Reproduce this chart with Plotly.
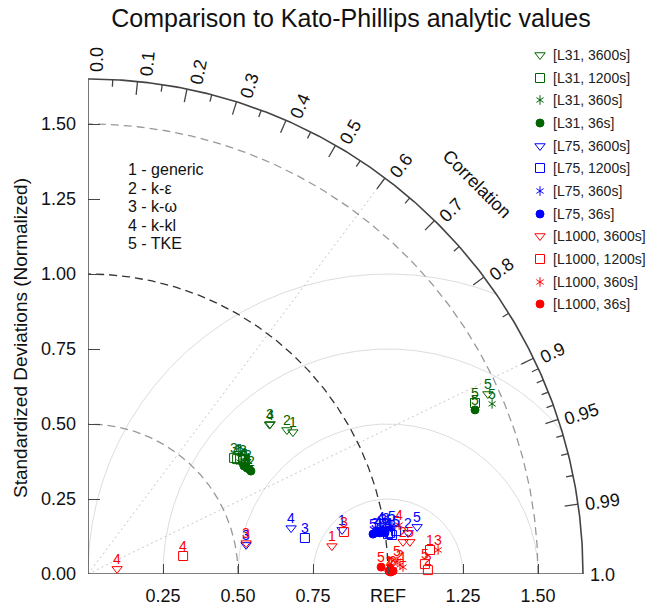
import numpy as np
import plotly.graph_objects as go

# ---------------- data ----------------
models = ["1", "2", "3", "4", "5"]
model_names = ["1 - generic", "2 - k-\u03b5", "3 - k-\u03c9", "4 - k-kl", "5 - TKE"]
times = ["3600s", "1200s", "360s", "36s"]
grids = ["L31", "L75", "L1000"]
grid_colors = ["#006400", "#0000ff", "#ff0000"]
time_symbols = ["triangle-down-open", "square-open", "asterisk6", "circle"]

# normalized diagram coordinates (x = sd*corr, y = sd*sqrt(1-corr^2)); rows = times, cols = models 1..5
L31_x = [[0.683, 0.663, 0.607, 0.605, 1.333],
         [0.507, 0.517, 0.487, 0.497, 1.290],
         [0.527, 0.533, 0.507, 0.517, 1.347],
         [0.537, 0.543, 0.520, 0.530, 1.290]]
L31_y = [[0.473, 0.480, 0.500, 0.498, 0.600],
         [0.383, 0.380, 0.387, 0.383, 0.570],
         [0.367, 0.363, 0.373, 0.370, 0.567],
         [0.350, 0.343, 0.360, 0.353, 0.547]]
L75_x = [[0.847, 1.067, 0.527, 0.677, 1.097],
         [1.007, 1.013, 0.723, 1.000, 1.027],
         [1.000, 0.993, 0.983, 0.977, 1.013],
         [0.973, 0.990, 0.957, 0.967, 0.950]]
L75_y = [[0.147, 0.137, 0.097, 0.153, 0.157],
         [0.137, 0.130, 0.120, 0.133, 0.143],
         [0.147, 0.153, 0.150, 0.157, 0.160],
         [0.137, 0.137, 0.137, 0.143, 0.133]]
L1000_x = [[0.813, 1.050, 0.527, 0.097, 1.073],
           [1.140, 1.133, 0.853, 0.317, 1.123],
           [1.050, 1.040, 1.167, 1.037, 1.030],
           [1.003, 1.010, 1.017, 1.007, 0.977]]
L1000_y = [[0.093, 0.107, 0.103, 0.017, 0.107],
           [0.080, 0.013, 0.140, 0.060, 0.033],
           [0.023, 0.030, 0.080, 0.163, 0.043],
           [0.010, 0.007, 0.010, 0.007, 0.023]]

sd_ticks = [0.0, 0.25, 0.5, 0.75, 1.0, 1.25, 1.5]
sd_ticktext_y = ["0.00", "0.25", "0.50", "0.75", "1.00", "1.25", "1.50"]
sd_ticktext_x = ["", "0.25", "0.50", "0.75", "REF", "1.25", "1.50"]
corr_major = [0.1, 0.2, 0.3, 0.4, 0.5, 0.6, 0.7, 0.8, 0.9, 0.95, 0.99]
corr_minor = [0.05, 0.15, 0.25, 0.35, 0.45, 0.55, 0.65, 0.75, 0.85,
              0.91, 0.92, 0.93, 0.94, 0.96, 0.97, 0.98]
corr_labels = [0.0, 0.1, 0.2, 0.3, 0.4, 0.5, 0.6, 0.7, 0.8, 0.9, 0.95, 0.99, 1.0]
corr_texts = ["0.0", "0.1", "0.2", "0.3", "0.4", "0.5", "0.6", "0.7", "0.8", "0.9", "0.95", "0.99", "1.0"]
sd_arcs = [0.5, 1.0, 1.5]
rms_arcs = [0.25, 0.5, 0.75, 1.0]
corr_rays = [0.6, 0.9]
SDMAX = 1.65

# ---------------- figure ----------------
W, H = 648, 605
ML, MB = 88, 31
PX = 300.0                        # px per unit of standardized deviation
XMAX = (W - ML) / PX
YMAX = (H - MB) / PX
FONT = "Liberation Sans, Arial, sans-serif"

fig = go.Figure()


def line_trace(x, y, color, width=1.0, dash="solid"):
    fig.add_trace(go.Scatter(x=x, y=y, mode="lines", line=dict(color=color, width=width, dash=dash),
                             hoverinfo="skip", showlegend=False, cliponaxis=False))


def marker_trace(x, y, sym, col, hover=True):
    # a 6-armed asterisk is built from the two "Y" symbols
    syms = ["y-up-open", "y-down-open"] if sym == "asterisk6" else [sym]
    for s in syms:
        filled = s == "circle"
        size = 8 if filled else (6 if s.startswith("y-") else 9)
        fig.add_trace(go.Scatter(
            x=x, y=y, mode="markers",
            marker=dict(symbol=s, size=size, color=col, line=dict(color=col, width=1)),
            cliponaxis=False, showlegend=False, hoverinfo=None if hover else "skip"))


# RMS arcs around REF
for R in rms_arcs:
    phi = np.linspace(0, np.pi, 800)
    xs = 1 + R * np.cos(phi)
    ys = R * np.sin(phi)
    ok = (xs ** 2 + ys ** 2 <= SDMAX ** 2) & (xs >= 0)
    line_trace(xs[ok], ys[ok], "#dddddd", 1.0)

# correlation rays
for c in corr_rays:
    a = np.arccos(c)
    line_trace([0, SDMAX * np.cos(a)], [0, SDMAX * np.sin(a)], "#c8c8c8", 1.0, "2px,3px")

# std dev arcs
th = np.linspace(0, np.pi / 2, 300)
for r in sd_arcs:
    col = "#333333" if r == 1.0 else "#999999"
    line_trace(r * np.cos(th), r * np.sin(th), col, 1.3, "8px,5px")

# outer arc and the two straight axes
line_trace(SDMAX * np.cos(th), SDMAX * np.sin(th), "#444444", 1.6)
line_trace([0, SDMAX], [0, 0], "#555555", 1.6)
line_trace([0, 0], [0, SDMAX], "#555555", 1.6)

# correlation ticks
tx, ty = [], []
for clist, L in ((corr_major, 0.045), (corr_minor, 0.024)):
    for c in clist:
        a = np.arccos(c)
        tx += [SDMAX * np.cos(a), (SDMAX - L) * np.cos(a), None]
        ty += [SDMAX * np.sin(a), (SDMAX - L) * np.sin(a), None]
line_trace(tx, ty, "#444444", 1.3)

# data points
annotations = []
all_x = [L31_x, L75_x, L1000_x]
all_y = [L31_y, L75_y, L1000_y]
for gi, g in enumerate(grids):
    col = grid_colors[gi]
    for ti, t in enumerate(times):
        marker_trace(all_x[gi][ti], all_y[gi][ti], time_symbols[ti], col)
        for mi in reversed(range(len(models))):
            annotations.append(dict(x=all_x[gi][ti][mi], y=all_y[gi][ti][mi], xref="x", yref="y",
                                    text=models[mi], showarrow=False, yshift=10,
                                    font=dict(size=14, color=col, family=FONT)))

# custom legend (top right)
leg_rows_px = [55, 78, 100, 123, 146, 168, 191, 214, 236, 259, 282, 304]
k = 0
for gi, g in enumerate(grids):
    col = grid_colors[gi]
    for ti, t in enumerate(times):
        ly = (H - MB - leg_rows_px[k]) / PX
        marker_trace([(540 - ML) / PX], [ly], time_symbols[ti], col, hover=False)
        annotations.append(dict(x=(551 - ML) / PX, y=ly, xref="x", yref="y", text=f"[{g}, {t}]",
                                showarrow=False, xanchor="left", yanchor="middle",
                                font=dict(size=14, color="#222222", family=FONT)))
        k += 1

# model key
for i, name in enumerate(model_names):
    py = 169.5 + 18.5 * i
    annotations.append(dict(x=(126 - ML) / PX, y=(H - MB - py) / PX, xref="x", yref="y", text=name,
                            showarrow=False, xanchor="left", yanchor="middle",
                            font=dict(size=16, color="#111111", family=FONT)))

# correlation labels (paper coordinates so none is hidden at the axis edges)
FS = 18
for c, t in zip(corr_labels, corr_texts):
    a = np.arccos(c)
    w = FS * (0.556 * (len(t) - 1) + 0.278)
    rc = 1.672 + w / 2 / PX
    off = (1 + 8 * a / (np.pi / 2)) / PX
    x = rc * np.cos(a) + off * np.sin(a)
    y = rc * np.sin(a) - off * np.cos(a)
    annotations.append(dict(x=x / XMAX, y=y / YMAX, xref="paper", yref="paper", text=t, showarrow=False,
                            textangle=-np.degrees(a), xanchor="center", yanchor="middle",
                            font=dict(size=FS, color="#111111", family=FONT)))

# "Correlation" label
ca = np.radians(45.1)
annotations.append(dict(x=1.836 * np.cos(ca), y=1.836 * np.sin(ca), xref="x", yref="y",
                        text="Correlation", showarrow=False, textangle=90 - 45.1,
                        font=dict(size=18, color="#111111", family=FONT)))

# y-axis title
annotations.append(dict(x=(20 - ML) / (W - ML), y=(H - MB - 338) / (H - MB), xref="paper", yref="paper",
                        text="Standardized Deviations (Normalized)", showarrow=False, textangle=-90,
                        xanchor="center", yanchor="middle",
                        font=dict(size=19, color="#111111", family=FONT)))

axis_common = dict(showgrid=False, zeroline=False, showline=False, automargin=False,
                   ticks="inside", tickcolor="#444444", tickwidth=1.3, tickvals=sd_ticks,
                   fixedrange=True, tickfont=dict(size=18, color="#111111", family=FONT))

fig.update_layout(
    width=W, height=H,
    margin=dict(l=ML, r=0, t=0, b=MB, pad=0),
    paper_bgcolor="white", plot_bgcolor="white",
    title=dict(text="Comparison to Kato-Phillips analytic values", x=351 / W, xref="container",
               y=1 - 18 / H, yref="container", xanchor="center", yanchor="middle",
               font=dict(size=25, color="#111111", family=FONT)),
    xaxis=dict(axis_common, range=[0, XMAX], ticktext=sd_ticktext_x, ticklen=10, ticklabelstandoff=9),
    yaxis=dict(axis_common, range=[0, YMAX], ticktext=sd_ticktext_y, ticklen=12, ticklabelstandoff=11),
    annotations=annotations,
    showlegend=False,
)

fig.write_html("out.html")
